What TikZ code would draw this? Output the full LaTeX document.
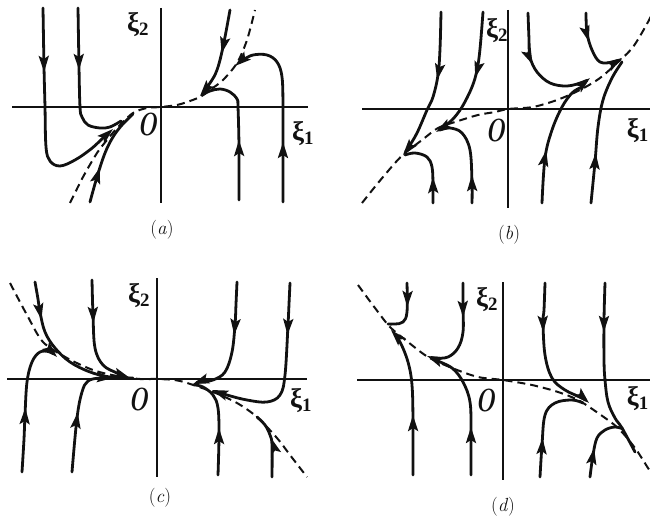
\documentclass[tikz,border=0pt]{standalone}
\usepackage{fontspec}
\newfontfamily\greekfont{Liberation Serif}
\usetikzlibrary{arrows.meta,decorations.markings}
\definecolor{ink}{HTML}{111111}
\tikzset{
  flowtip/.tip={Stealth[length=16pt,width=10pt,inset=3pt]},
  axis/.style={draw=ink,line width=2.1pt},
  traj/.style={draw=ink,line width=2.8pt,line cap=round,line join=round},
  sep/.style={draw=ink,line width=2pt,dash pattern=on 8pt off 5pt},
  flowat/.style={postaction={decorate,decoration={markings,
    mark=at position #1 with {\arrow{Stealth[length=16pt,width=10pt,inset=3pt]}}}}},
  axlabel/.style={font=\fontsize{27}{29}\selectfont\greekfont\bfseries,inner sep=0pt,text=ink},
  olabel/.style={font=\fontsize{32}{34}\selectfont\bfseries\itshape,inner sep=0pt,text=ink,
    xscale=0.72,transform shape},
  caption/.style={font=\fontsize{19}{21}\selectfont,inner sep=0pt,text=ink},
}

\begin{document}
\begin{tikzpicture}[x=1pt,y=1pt]
\useasboundingbox (0,0) rectangle (650,523);
\clip (0,0) rectangle (650,523);
\begin{scope}[shift={(161,416)}]
\draw[axis] (-149,0) -- (147,0);
\draw[axis] (0,99) -- (0,-96);
\node[axlabel] (xia2) at (-23,82) {ξ\textsubscript{2}};
\node[axlabel,anchor=west] (xia1) at (131,-27) {ξ\textsubscript{1}};
\node[olabel] (oa) at (-14,-18) {O};
\node[caption] (capa) at (1,-123) {(\textit{a})};
\draw[sep] plot[smooth] coordinates {(-91,-96) (-78,-70) (-64,-46) (-54,-33) (-43,-20) (-28,-6) (-14,-1) (0,0) (16,2) (26,5) (39,10) (49,17) (62,27) (76,44) (86,67) (94,97)};
\draw[traj,flowat=64pt,-{flowtip}] plot[smooth,tension=0.6] coordinates {(-118,99) (-117,40) (-116,0) (-115,-40) (-111,-54) (-101,-59) (-86,-53) (-70,-42) (-58,-31) (-48,-22)};
\draw[traj,flowat=62pt] plot[smooth,tension=0.6] coordinates {(-83,99) (-82,40) (-81,0) (-79,-10) (-73,-18) (-61,-21) (-51,-20) (-40,-14)};
\draw[traj,flowat=36pt] plot[smooth,tension=0.6] coordinates {(-71,-95) (-64,-70) (-56,-46) (-48,-30) (-39,-18) (-28,-7)};
\draw[traj,flowat=44pt,-{flowtip}] plot[smooth,tension=0.6] coordinates {(69,97) (62,60) (56,37) (49,24) (39,11)};
\draw[traj,flowat=60pt] plot[smooth,tension=0.6] coordinates {(78,-93) (78,-40) (77,0) (76,8) (69,15) (59,18) (49,16) (41,12)};
\draw[traj,flowat=60pt,-{flowtip}] plot[smooth,tension=0.6] coordinates {(122,-95) (122,-40) (122,0) (121,30) (116,45) (106,52) (92,52) (82,47) (74,41)};
\end{scope}
\begin{scope}[shift={(508,414)}]
\draw[axis] (-146,0) -- (146,0);
\draw[axis] (0,99) -- (0,-99);
\node[axlabel] (xib2) at (-11,78) {ξ\textsubscript{2}};
\node[axlabel,anchor=east] (xib1) at (141,-22) {ξ\textsubscript{1}};
\node[olabel] (ob) at (-13,-22) {O};
\node[caption] (capb) at (1,-126) {(\textit{b})};
\draw[sep] plot[smooth] coordinates {(-146,-94) (-130,-74) (-113,-54) (-103,-44) (-86,-31) (-70,-19) (-53,-13) (-30,-6) (-13,-3) (0,0) (25,2) (49,9) (72,19) (92,31) (109,46) (125,62) (140,87) (146,100)};
\draw[traj,flowat=68pt,-{flowtip}] plot[smooth,tension=0.6] coordinates {(-67,97) (-68,60) (-70,34) (-75,12) (-81,-1) (-91,-24) (-100,-39) (-105,-46)};
\draw[traj,flowat=66pt,-{flowtip}] plot[smooth,tension=0.6] coordinates {(-25,97) (-28,60) (-31,39) (-36,22) (-46,2) (-56,-11) (-66,-19) (-72,-23)};
\draw[traj,flowat=26pt] plot[smooth,tension=0.6] coordinates {(-75,-94) (-75,-76) (-76,-58) (-81,-48) (-93,-44) (-103,-46)};
\draw[traj,flowat=28pt] plot[smooth,tension=0.6] coordinates {(-36,-94) (-36,-74) (-38,-41) (-46,-24) (-58,-19) (-68,-21)};
\draw[traj,flowat=52pt,-{flowtip}] plot[smooth,tension=0.6] coordinates {(20,96) (21,70) (22,52) (29,37) (42,26) (59,23) (75,27) (82,31)};
\draw[traj,flowat=29pt,-{flowtip}] plot[smooth,tension=0.6] coordinates {(78,96) (79,76) (84,59) (92,47) (105,47) (114,51)};
\draw[traj,flowat=53pt] plot[smooth,tension=0.6] coordinates {(34,-94) (37,-49) (44,-21) (54,2) (64,16) (72,21)};
\draw[traj,flowat=50pt] plot[smooth,tension=0.6] coordinates {(83,-94) (87,-53) (90,-18) (95,9) (104,31) (114,47)};
\end{scope}
\begin{scope}[shift={(157,144)}]
\draw[axis] (-150,0) -- (150,0);
\draw[axis] (0,101) -- (0,-98);
\node[axlabel] (xic2) at (-18,83) {ξ\textsubscript{2}};
\node[axlabel,anchor=west] (xic1) at (133,-22) {ξ\textsubscript{1}};
\node[olabel] (oc) at (-19,-21) {O};
\node[caption] (capc) at (3,-119) {(\textit{c})};
\draw[sep] plot[smooth] coordinates {(-147,96) (-130,64) (-114,37) (-90,21) (-64,9) (-40,3) (-17,0) (0,0) (23,-2) (56,-13) (80,-24) (100,-38) (120,-59) (133,-76) (150,-98)};
\draw[traj,flowat=38pt] plot[smooth,tension=0.6] coordinates {(-122,97) (-119,80) (-117,67) (-112,47) (-102,31) (-87,17) (-67,7) (-47,2) (-24,1)};
\draw[traj,flowat=43pt,-{flowtip}] plot[smooth,tension=0.6] coordinates {(-65,99) (-64,64) (-62,31) (-54,14) (-40,6) (-27,1)};
\draw[traj,flowat=64pt,-{flowtip}] plot[smooth,tension=0.6] coordinates {(-135,-93) (-133,-60) (-132,-36) (-130,-3) (-125,17) (-117,27) (-107,27) (-100,22)};
\draw[traj,flowat=60pt,-{flowtip}] plot[smooth,tension=0.6] coordinates {(-85,-93) (-80,-39) (-75,-13) (-69,-2) (-57,1) (-44,1)};
\draw[traj,flowat=53pt,-{flowtip}] plot[smooth,tension=0.6] coordinates {(80,97) (79,75) (78,54) (75,27) (68,7) (56,-1) (43,-3) (36,-5)};
\draw[traj,flowat=52pt,-{flowtip}] plot[smooth,tension=0.6] coordinates {(133,96) (132,75) (131,54) (128,4) (123,-16) (110,-23) (90,-21) (70,-16) (55,-11)};
\draw[traj,flowat=47pt] plot[smooth,tension=0.6] coordinates {(61,-96) (62,-56) (61,-29) (56,-16) (46,-8) (38,-6)};
\draw[traj,flowat=39pt] plot[smooth,tension=0.6] coordinates {(115,-98) (115,-66) (113,-56) (108,-46) (100,-38)};
\end{scope}
\begin{scope}[shift={(503,143)}]
\draw[axis] (-146,0) -- (147,0);
\draw[axis] (0,98) -- (0,-100);
\node[axlabel] (xid2) at (-16,80) {ξ\textsubscript{2}};
\node[axlabel,anchor=east] (xid1) at (146,-19) {ξ\textsubscript{1}};
\node[olabel] (od) at (-18,-21) {O};
\node[caption] (capd) at (0,-127) {(\textit{d})};
\draw[sep] plot[smooth] coordinates {(-145,95) (-128,72) (-113,53) (-95,38) (-75,23) (-51,12) (-25,3) (0,0) (29,-5) (55,-12) (75,-20) (95,-33) (115,-48) (132,-68) (145,-88) (150,-95)};
\draw[traj,flowat=24pt] plot[smooth,tension=0.6] coordinates {(-96,97) (-96,68) (-100,58) (-108,56) (-115,56)};
\draw[traj,flowat=60pt,-{flowtip}] plot[smooth,tension=0.6] coordinates {(-90,-95) (-90,-42) (-91,-5) (-95,18) (-103,38) (-112,50)};
\draw[traj,flowat=34pt,-{flowtip}] plot[smooth,tension=0.6] coordinates {(-40,97) (-40,73) (-40,48) (-45,32) (-55,23) (-68,22) (-76,24)};
\draw[traj,flowat=48pt] plot[smooth,tension=0.6] coordinates {(-32,-95) (-32,-52) (-33,-22) (-40,-2) (-51,12) (-68,20)};
\draw[traj,flowat=49pt,-{flowtip}] plot[smooth,tension=0.6] coordinates {(42,97) (41,70) (40,58) (42,25) (49,2) (62,-10) (79,-18) (86,-23)};
\draw[traj,flowat=39pt] plot[smooth,tension=0.6] coordinates {(37,-97) (39,-65) (42,-35) (52,-23) (69,-20) (80,-23)};
\draw[traj,flowat=49pt] plot[smooth,tension=0.6] coordinates {(102,97) (101,60) (101,20) (102,0) (105,-22) (112,-38) (119,-48) (132,-72)};
\draw[traj,flowat=29pt] plot[smooth,tension=0.6] coordinates {(87,-97) (90,-75) (94,-58) (102,-50) (112,-47) (120,-49)};
\end{scope}
\end{tikzpicture}
\end{document}
